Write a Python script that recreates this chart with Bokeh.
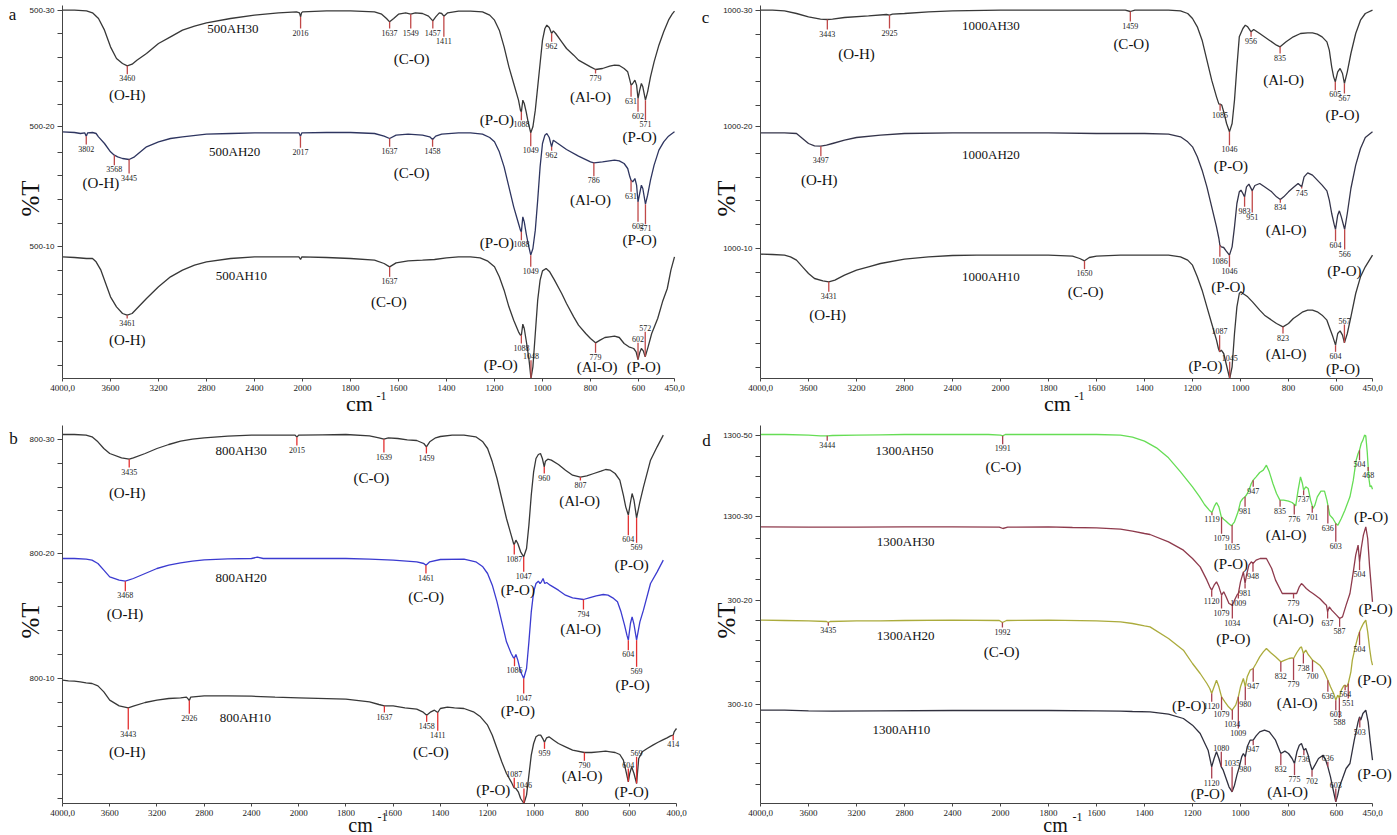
import numpy as np
from bokeh.plotting import figure
from bokeh.layouts import column, row
from bokeh.models import (Range1d, FixedTicker, Label, LabelSet, ColumnDataSource,
                          CustomJSTickFormatter)
from bokeh.core.properties import value
from bokeh.core.property.dataspec import DataSpec
from bokeh.embed import file_html
from bokeh.resources import INLINE

SERIF = "Liberation Serif"
SANS = "Liberation Sans"

# ---------------- tick labels ----------------
XT_WN_450 = [4000, 3600, 3200, 2800, 2400, 2000, 1800, 1600, 1400, 1200, 1000, 800, 600, 450]
XT_LAB_450 = ["4000,0", "3600", "3200", "2800", "2400", "2000", "1800", "1600", "1400",
              "1200", "1000", "800", "600", "450,0"]
XT_WN_400 = [4000, 3600, 3200, 2800, 2400, 2000, 1800, 1600, 1400, 1200, 1000, 800, 600, 400]
XT_LAB_400 = ["4000,0", "3600", "3200", "2800", "2400", "2000", "1800", "1600", "1400",
              "1200", "1000", "800", "600", "400,0"]

# ---------------- spectra: (wavenumber, depth below panel top, arbitrary units) -------------
A30 = [(4000,30),(3900,30),(3800,32),(3750,38),(3700,55),(3650,90),(3600,140),(3550,175),(3500,190),(3460,197),(3420,192),(3380,180),(3300,160),(3200,130),(3100,110),(3000,90),(2900,78),(2800,68),(2600,55),(2400,45),(2200,38),(2050,35),(2025,38),(2016,50),(2008,38),(2000,35),(1900,32),(1800,32),(1700,35),(1670,42),(1650,55),(1637,65),(1620,55),(1600,42),(1570,38),(1549,42),(1530,38),(1500,40),(1475,48),(1457,62),(1445,50),(1430,38),(1420,40),(1411,48),(1395,38),(1350,33),(1300,33),(1250,35),(1220,45),(1200,60),(1180,90),(1160,140),(1140,200),(1120,250),(1100,300),(1092,330),(1088,335),(1082,300),(1076,310),(1068,335),(1060,365),(1049,398),(1040,380),(1030,330),(1020,260),(1010,190),(1000,120),(990,85),(982,75),(972,82),(962,100),(955,92),(945,100),(920,125),(900,145),(870,165),(850,180),(800,200),(779,208),(750,205),(720,198),(700,195),(680,196),(660,205),(645,215),(636,240),(631,255),(624,250),(615,240),(608,255),(602,295),(595,270),(588,250),(582,260),(571,300),(562,275),(550,230),(535,185),(515,135),(495,95),(475,60),(460,42),(450,33)]
A20 = [(4000,395),(3900,397),(3850,400),(3815,398),(3802,408),(3790,398),(3750,397),(3720,400),(3700,410),(3650,430),(3600,455),(3568,465),(3540,470),(3500,475),(3445,478),(3400,470),(3350,455),(3300,440),(3200,425),(3100,415),(3000,410),(2800,402),(2600,400),(2400,398),(2200,398),(2030,398),(2017,408),(2005,398),(1900,397),(1800,397),(1700,400),(1660,408),(1637,415),(1610,405),(1560,402),(1500,405),(1470,410),(1458,418),(1445,408),(1420,402),(1350,398),(1300,398),(1250,402),(1220,412),(1200,425),(1180,455),(1160,500),(1140,560),(1120,620),(1100,670),(1092,690),(1088,695),(1082,650),(1076,665),(1068,700),(1060,730),(1049,765),(1040,745),(1030,690),(1020,600),(1010,500),(1000,430),(990,405),(982,400),(972,412),(962,440),(955,420),(940,428),(900,448),(850,468),(800,485),(786,488),(750,485),(700,480),(680,482),(660,490),(645,505),(636,530),(631,540),(624,545),(615,535),(608,555),(602,605),(595,580),(588,555),(582,565),(571,612),(562,585),(550,540),(535,495),(515,450),(495,425),(475,408),(460,400),(450,395)]
A10 = [(4000,770),(3900,772),(3800,775),(3750,775),(3720,785),(3680,810),(3640,850),(3600,890),(3550,920),(3500,940),(3461,945),(3420,940),(3380,925),(3300,895),(3200,860),(3100,830),(3000,810),(2900,795),(2800,785),(2600,775),(2400,770),(2200,770),(2030,770),(2016,778),(2005,770),(1900,772),(1800,775),(1700,780),(1660,790),(1637,800),(1610,788),(1560,782),(1500,780),(1450,778),(1400,773),(1350,770),(1300,770),(1260,773),(1230,782),(1200,800),(1180,830),(1160,870),(1140,920),(1120,960),(1100,995),(1092,1005),(1088,1005),(1082,972),(1076,985),(1066,1030),(1056,1080),(1048,1135),(1040,1100),(1030,1000),(1020,900),(1010,840),(1000,812),(985,805),(970,815),(950,840),(920,880),(900,910),(870,950),(850,975),(820,1000),(800,1015),(779,1028),(760,1020),(740,1012),(720,1010),(700,1008),(680,1012),(660,1030),(640,1040),(620,1045),(610,1055),(602,1078),(595,1058),(588,1045),(580,1052),(572,1070),(560,1040),(545,1000),(520,955),(500,905),(480,865),(465,810),(450,770)]

C30 = [(4000,30),(3900,30),(3800,32),(3700,40),(3600,50),(3500,57),(3443,58),(3400,57),(3300,52),(3100,47),(2950,43),(2925,45),(2900,42),(2800,40),(2600,35),(2400,32),(2000,30),(1800,30),(1600,30),(1480,30),(1459,34),(1440,30),(1300,30),(1250,32),(1220,40),(1200,55),(1180,80),(1160,120),(1140,180),(1120,240),(1100,290),(1090,312),(1085,312),(1078,315),(1068,340),(1058,370),(1046,395),(1035,370),(1025,300),(1015,200),(1005,110),(990,85),(980,75),(970,80),(956,95),(945,88),(920,100),(880,120),(850,135),(835,140),(810,125),(780,110),(750,100),(720,98),(700,98),(680,102),(660,110),(640,125),(630,150),(620,200),(612,230),(605,245),(595,215),(585,205),(575,220),(567,250),(555,215),(540,160),(520,100),(500,60),(480,40),(450,30)]
C20 = [(4000,398),(3900,398),(3800,398),(3700,400),(3650,415),(3600,430),(3550,437),(3497,438),(3450,435),(3400,430),(3300,420),(3200,412),(3000,405),(2800,400),(2400,398),(2000,398),(1800,398),(1600,400),(1400,400),(1300,402),(1250,410),(1220,425),(1200,440),(1180,470),(1160,510),(1140,560),(1120,620),(1100,680),(1090,715),(1086,735),(1080,740),(1070,742),(1060,752),(1046,765),(1035,740),(1025,680),(1015,610),(1005,575),(998,570),(990,580),(983,590),(975,560),(965,552),(951,572),(940,556),(920,550),(900,560),(870,575),(850,590),(834,598),(820,590),(800,575),(780,562),(760,550),(745,560),(735,530),(720,518),(700,525),(680,540),(660,555),(640,572),(630,600),(620,640),(610,672),(604,688),(595,645),(588,632),(580,650),(566,688),(555,640),(540,565),(520,495),(500,445),(480,412),(450,395)]
C10 = [(4000,762),(3900,763),(3800,765),(3750,770),(3700,780),(3650,800),(3600,820),(3550,835),(3480,842),(3431,845),(3380,840),(3300,825),(3200,810),(3100,800),(3000,790),(2800,777),(2600,770),(2400,766),(2200,765),(2000,765),(1800,765),(1700,768),(1670,775),(1650,782),(1630,772),(1600,768),(1500,765),(1400,765),(1300,765),(1250,770),(1220,780),(1200,795),(1180,830),(1160,870),(1140,920),(1120,970),(1100,1020),(1092,1045),(1087,1055),(1080,1050),(1070,1060),(1060,1090),(1045,1135),(1035,1100),(1025,1000),(1015,920),(1005,880),(998,875),(990,880),(970,890),(950,905),(920,930),(900,945),(870,960),(850,970),(823,980),(800,970),(780,955),(760,945),(740,935),(720,930),(700,930),(680,935),(660,945),(640,960),(625,990),(615,1010),(604,1035),(595,1000),(585,992),(575,1005),(567,1028),(555,1000),(540,950),(520,880),(500,830),(480,800),(450,765)]

B30 = [(4000,58),(3900,58),(3800,60),(3750,65),(3700,80),(3650,100),(3600,115),(3500,128),(3435,132),(3400,128),(3300,115),(3200,100),(3100,88),(3000,78),(2900,72),(2800,68),(2600,63),(2400,60),(2200,60),(2030,60),(2015,66),(2000,60),(1900,59),(1800,58),(1700,62),(1660,68),(1639,72),(1620,68),(1580,70),(1540,74),(1500,76),(1470,85),(1459,95),(1445,80),(1420,68),(1400,64),(1350,60),(1300,60),(1250,65),(1220,80),(1200,100),(1180,140),(1160,190),(1140,250),(1120,310),(1100,360),(1090,385),(1087,388),(1080,375),(1072,385),(1060,410),(1047,425),(1035,400),(1025,330),(1015,240),(1005,170),(995,130),(985,118),(976,115),(968,130),(960,155),(955,138),(945,132),(930,135),(900,148),(870,165),(840,180),(807,186),(780,182),(750,175),(720,168),(700,163),(680,165),(660,175),(640,195),(625,240),(615,275),(604,300),(595,262),(588,235),(580,255),(569,308),(555,260),(540,216),(510,135),(482,95),(456,60)]
B20 = [(4000,430),(3900,430),(3800,432),(3750,435),(3700,445),(3650,465),(3600,485),(3520,495),(3468,498),(3400,490),(3300,475),(3200,460),(3100,450),(3000,443),(2900,438),(2800,434),(2600,431),(2400,430),(2350,426),(2300,430),(2000,430),(1800,430),(1700,432),(1600,435),(1500,440),(1470,445),(1461,450),(1445,440),(1400,433),(1300,432),(1250,440),(1220,455),(1200,475),(1180,510),(1160,560),(1140,620),(1120,680),(1100,715),(1090,728),(1086,728),(1080,718),(1072,735),(1060,770),(1047,790),(1035,760),(1025,680),(1015,590),(1005,530),(995,505),(985,498),(978,505),(972,500),(965,490),(958,505),(950,502),(935,510),(900,525),(870,540),(840,548),(794,553),(770,548),(740,542),(710,538),(690,540),(670,548),(650,560),(635,590),(620,630),(610,660),(604,675),(595,625),(588,605),(580,628),(569,675),(555,620),(540,585),(510,505),(482,470),(456,435)]
B10 = [(4000,795),(3950,797),(3900,798),(3850,800),(3800,803),(3750,805),(3700,812),(3650,830),(3600,855),(3520,872),(3443,878),(3400,873),(3300,862),(3200,855),(3100,850),(3000,848),(2950,846),(2935,852),(2926,856),(2915,846),(2800,842),(2600,842),(2400,843),(2200,846),(2000,848),(1800,852),(1700,860),(1660,868),(1637,872),(1600,872),(1550,878),(1500,882),(1475,890),(1458,900),(1440,890),(1425,885),(1411,892),(1400,880),(1370,876),(1340,878),(1300,880),(1260,890),(1230,905),(1200,930),(1180,960),(1160,1000),(1140,1040),(1120,1075),(1100,1100),(1090,1115),(1087,1118),(1080,1120),(1070,1130),(1060,1150),(1046,1165),(1035,1140),(1025,1080),(1015,1020),(1005,985),(995,965),(985,960),(975,960),(965,972),(959,981),(950,968),(940,965),(920,975),(900,985),(870,995),(840,1005),(790,1012),(760,1012),(730,1010),(700,1008),(680,1010),(660,1012),(640,1018),(625,1035),(615,1065),(604,1100),(598,1075),(590,1055),(580,1075),(569,1105),(560,1030),(545,1010),(524,1000),(500,990),(480,982),(460,975),(440,968),(425,962),(414,960),(410,950),(405,945),(400,940)]

D50 = [(4000,58),(3800,58),(3600,60),(3500,62),(3444,62),(3400,61),(3200,60),(3000,59),(2800,58),(2400,58),(2100,58),(2000,60),(1991,62),(1980,58),(1900,58),(1800,58),(1600,58),(1500,60),(1450,66),(1400,78),(1350,98),(1300,128),(1250,170),(1200,215),(1170,245),(1150,268),(1130,285),(1119,292),(1108,272),(1100,262),(1090,275),(1080,305),(1070,312),(1060,318),(1050,325),(1038,332),(1025,320),(1010,290),(1000,260),(990,250),(981,245),(974,238),(965,225),(955,205),(947,195),(935,185),(920,172),(905,165),(892,150),(880,170),(865,205),(850,235),(836,255),(820,255),(800,258),(785,262),(770,272),(760,225),(750,185),(742,205),(737,225),(728,215),(718,220),(708,255),(698,280),(690,270),(680,245),(665,228),(650,228),(640,255),(628,300),(615,310),(603,325),(594,330),(580,310),(565,285),(544,245),(530,195),(518,135),(510,115),(504,105),(497,85),(490,75),(483,60),(478,62),(472,110),(465,190),(460,215),(455,212),(450,222)]
D30 = [(4000,335),(3600,336),(3200,336),(2800,335),(2400,335),(2010,336),(1990,340),(1970,336),(1800,335),(1700,337),(1600,338),(1500,342),(1450,348),(1400,355),(1377,358),(1300,380),(1238,405),(1200,430),(1168,455),(1140,495),(1128,515),(1120,525),(1110,510),(1100,500),(1090,515),(1079,540),(1070,530),(1060,545),(1048,565),(1034,570),(1025,555),(1015,540),(1009,535),(1000,500),(988,470),(981,505),(975,480),(965,450),(955,440),(948,445),(935,435),(918,430),(892,430),(870,460),(854,495),(826,535),(800,535),(779,535),(766,535),(755,515),(746,505),(736,512),(726,520),(712,528),(698,535),(670,550),(650,565),(642,570),(637,590),(630,575),(620,585),(600,600),(587,610),(575,605),(560,570),(544,535),(530,470),(520,420),(510,390),(504,440),(497,400),(488,360),(478,335),(470,370),(462,455),(450,560)]
D20 = [(4000,615),(3800,616),(3600,617),(3450,619),(3435,622),(3420,619),(3200,617),(3000,617),(2800,616),(2400,615),(2010,616),(1992,622),(1975,616),(1800,615),(1600,617),(1500,620),(1450,625),(1400,632),(1377,635),(1300,670),(1238,705),(1200,745),(1168,775),(1140,805),(1128,820),(1120,835),(1110,815),(1100,795),(1090,815),(1079,845),(1065,860),(1050,875),(1035,885),(1020,870),(1009,845),(1000,815),(988,790),(980,815),(972,785),(960,765),(947,760),(935,745),(920,725),(905,710),(892,700),(875,712),(854,725),(832,740),(815,735),(798,730),(785,728),(779,730),(765,712),(752,698),(746,695),(738,715),(728,705),(718,718),(710,725),(700,735),(685,742),(670,750),(655,765),(645,780),(636,795),(625,815),(612,835),(603,855),(595,840),(588,848),(580,825),(570,812),(564,810),(557,815),(551,805),(540,770),(534,735),(520,690),(511,665),(504,650),(495,635),(488,625),(478,615),(470,650),(462,700),(455,735),(450,750)]
D10 = [(4000,885),(3800,885),(3600,887),(3400,888),(3000,887),(2400,886),(2000,886),(1800,886),(1600,887),(1500,888),(1450,889),(1377,890),(1300,897),(1238,910),(1200,930),(1168,955),(1135,1005),(1120,1055),(1110,1030),(1100,1010),(1090,1030),(1080,1055),(1072,1065),(1060,1090),(1048,1115),(1035,1130),(1025,1110),(1015,1080),(1005,1055),(995,1025),(988,1015),(980,1025),(972,995),(960,975),(947,975),(935,962),(920,950),(900,945),(880,950),(854,975),(832,1015),(815,1008),(800,1015),(785,1030),(775,1045),(765,1010),(755,990),(746,985),(736,1005),(728,1000),(718,1020),(710,1045),(702,1065),(690,1050),(675,1030),(656,1020),(645,1035),(636,1055),(625,1085),(615,1120),(603,1160),(595,1140),(588,1115),(575,1090),(560,1060),(544,1045),(526,975),(510,920),(504,905),(499,915),(490,895),(478,885),(468,920),(460,975),(450,1035)]

# ---------------- marked peaks: (wavenumber, marker length; negative = label above) -------------
PK_A30 = [(3460,25),(2016,35),(1637,20),(1549,43),(1457,23),(1411,62),(1088,25),(1049,40),(962,25),(779,12),(631,35),(602,40),(571,60)]
PK_A20 = [(3802,25),(3568,30),(3445,42),(2017,35),(1637,25),(1458,22),(1088,25),(1049,35),(962,12),(786,40),(631,35),(602,60),(571,60)]
PK_A10 = [(3461,10),(1637,30),(1088,25),(1048,-55),(779,30),(602,-50),(572,-75)]
PK_C30 = [(3443,30),(2925,40),(1459,30),(1085,20),(1046,40),(956,15),(835,20),(605,25),(567,30)]
PK_C20 = [(3497,30),(1086,35),(1046,35),(983,30),(951,65),(834,10),(745,5),(604,35),(566,60)]
PK_C10 = [(3431,30),(1650,25),(1087,-50),(1045,-50),(823,20),(604,20),(567,-55)]
PK_B30 = [(3435,25),(2015,25),(1639,40),(1459,20),(1087,30),(1047,45),(960,20),(807,10),(604,60),(569,75)]
PK_B20 = [(3468,30),(1461,25),(1086,25),(1047,45),(794,30),(604,30),(569,80)]
PK_B10 = [(3443,65),(2926,40),(1637,20),(1458,20),(1411,55),(1087,-30),(1046,-45),(959,20),(790,25),(604,-40),(569,-80),(414,15)]
PK_D50 = [(3444,15),(1991,25),(1119,8),(1079,50),(1035,55),(981,30),(947,20),(835,20),(776,30),(737,15),(701,20),(636,55),(603,55),(504,30),(468,12)]
PK_D30 = [(1120,20),(1079,40),(1034,40),(1009,15),(981,15),(948,25),(779,15),(637,20),(587,25),(504,25)]
PK_D20 = [(3435,10),(1992,15),(1120,25),(1079,40),(1034,30),(1009,95),(980,40),(947,40),(832,30),(779,65),(738,30),(700,35),(636,35),(603,30),(588,60),(564,15),(551,45),(504,40)]
PK_D10 = [(1120,35),(1080,-45),(1035,-75),(980,25),(947,15),(832,35),(775,35),(736,15),(702,20),(636,-15),(603,-40),(503,30)]

# ---------------- text annotations: (text, wavenumber, depth) ----------------
NAMES_A = [("500AH30",2580,85),("500AH20",2565,455),("500AH10",2510,825)]
GROUPS_A = [("(O-H)",3460,285),("(C-O)",1545,175),("(P-O)",1190,360),("(Al-O)",800,290),("(P-O)",595,410),
            ("(O-H)",3680,548),("(C-O)",1545,518),("(P-O)",1190,728),("(Al-O)",800,598),("(P-O)",595,718),
            ("(O-H)",3460,1020),("(C-O)",1640,905),("(P-O)",1174,1095),("(Al-O)",772,1100),("(P-O)",578,1100)]
NAMES_C = [("1000AH30",2080,75),("1000AH20",2080,462),("1000AH10",2080,830)]
GROUPS_C = [("(O-H)",3200,160),("(C-O)",1455,130),("(P-O)",1040,498),("(Al-O)",820,238),("(P-O)",575,345),
            ("(O-H)",3510,540),("(P-O)",1051,860),("(Al-O)",810,688),("(P-O)",567,812),
            ("(O-H)",3440,945),("(C-O)",1645,875),("(P-O)",1146,1098),("(Al-O)",810,1062),("(P-O)",573,1105)]
NAMES_B = [("800AH30",2488,105),("800AH20",2488,487),("800AH10",2452,908)]
GROUPS_B = [("(O-H)",3452,232),("(C-O)",1692,188),("(P-O)",1072,525),("(Al-O)",810,258),("(P-O)",590,450),
            ("(O-H)",3471,595),("(C-O)",1460,545),("(P-O)",1072,888),("(Al-O)",806,640),("(P-O)",586,808),
            ("(O-H)",3452,1010),("(C-O)",1440,1010),("(P-O)",1176,1125),("(Al-O)",800,1083),("(P-O)",590,1130)]
NAMES_D = [("1300AH50",2800,105),("1300AH30",2790,378),("1300AH20",2790,662),("1300AH10",2826,942)]
GROUPS_D = [("(C-O)",1988,155),("(P-O)",1040,447),("(Al-O)",810,360),("(P-O)",456,305),
            ("(P-O)",1030,672),("(Al-O)",780,610),("(P-O)",437,582),
            ("(C-O)",1995,710),("(P-O)",1214,873),("(Al-O)",764,862),("(P-O)",441,795),
            ("(P-O)",1136,1137),("(Al-O)",804,1130),("(P-O)",441,1075)]

# y-axis sample labels (text, depth)
YL_A = [("500-30",30),("500-20",380),("500-10",740)]
YL_C = [("1000-30",30),("1000-20",378),("1000-10",745)]
YL_B = [("800-30",72),("800-20",415),("800-10",790)]
YL_D = [("1300-50",62),("1300-30",305),("300-20",555),("300-10",868)]

# Label fonts: pass as value() only if this Bokeh treats them as data specs
_LBL_FONT_SPEC = isinstance(Label.lookup("text_font").property, DataSpec)


def _fv(v):
    return value(v) if _LBL_FONT_SPEC else v


def xf(wn):
    wn = np.asarray(wn, dtype=float)
    return np.where(wn >= 2000, (4000.0 - wn) / 400.0, 5.0 + (2000.0 - wn) / 200.0)


def lookup_fmt(vals, labs):
    return CustomJSTickFormatter(
        args=dict(tv=[float(v) for v in vals], tl=list(labs)),
        code="""
for (let i = 0; i < tv.length; i++) { if (Math.abs(tv[i] - tick) < 1e-6) { return tl[i]; } }
return "";
""")


def panel(cfg):
    base = cfg["base"]
    w, h = cfg["w"], cfg["h"]
    xend_u = float(xf(cfg["xend"]))
    pxu = cfg["fw"] / xend_u            # pixels per x unit
    left, bot = 62, cfg["bottom"]       # axes origin offset inside the canvas
    p = figure(width=w, height=h, output_backend="svg", toolbar_location=None,
               x_range=Range1d(-left / pxu, (w - left) / pxu),
               y_range=Range1d(-bot * 3.0, (h - bot) * 3.0),
               min_border=0, min_border_left=0, min_border_right=0,
               min_border_top=0, min_border_bottom=0)
    p.outline_line_color = None
    p.xgrid.visible = False
    p.ygrid.visible = False
    p.background_fill_color = "white"
    p.border_fill_color = "white"

    # x axis
    xt = [float(v) for v in xf(cfg["xt_wn"])]
    p.xaxis.fixed_location = 0
    p.xaxis.bounds = (0, xend_u)
    p.xaxis.ticker = FixedTicker(ticks=xt)
    p.xaxis.formatter = lookup_fmt(xt, cfg["xt_lab"])
    p.xaxis.major_tick_out = 3
    p.xaxis.major_tick_in = 0
    p.xaxis.minor_tick_line_color = None
    p.xaxis.major_label_text_font = SERIF
    p.xaxis.major_label_text_font_size = "9px"
    p.xaxis.major_label_standoff = 3
    p.xaxis.major_label_text_color = "#222222"
    p.xaxis.axis_line_color = "#444444"
    p.xaxis.major_tick_line_color = "#444444"

    # y axis
    ylab_t = [base - d for _, d in cfg["ylab"]]
    step = cfg["ystep"]
    minors = []
    v = ylab_t[0]
    while v > 0:
        if all(abs(v - m) > 20 for m in ylab_t):
            minors.append(v)
        v -= step
    p.yaxis.fixed_location = 0
    p.yaxis.bounds = (0, cfg["yend"])
    p.yaxis.ticker = FixedTicker(ticks=ylab_t, minor_ticks=minors)
    p.yaxis.formatter = lookup_fmt(ylab_t, [t for t, _ in cfg["ylab"]])
    p.yaxis.major_tick_out = 5
    p.yaxis.major_tick_in = 0
    p.yaxis.minor_tick_out = 5
    p.yaxis.minor_tick_in = 0
    p.yaxis.major_label_text_font = SANS
    p.yaxis.major_label_text_font_size = "8px"
    p.yaxis.major_label_standoff = 3
    p.yaxis.major_label_text_color = "#222222"
    p.yaxis.axis_line_color = "#444444"
    p.yaxis.major_tick_line_color = "#444444"
    p.yaxis.minor_tick_line_color = "#444444"

    # spectra
    for data, color, peaks in cfg["curves"]:
        wn = np.array([a for a, _ in data], dtype=float)
        t = base - np.array([b for _, b in data], dtype=float)
        xs = xf(wn)
        p.line(xs, t, line_color=color, line_width=1.3)
        x0, y0, y1 = [], [], []
        lx, ly, lt, bx, by, bt = [], [], [], [], [], []
        for pw, L in peaks:
            px = float(xf(pw))
            yc = float(np.interp(px, xs, t))
            x0.append(px)
            y0.append(yc)
            y1.append(yc - L)
            if L >= 0:
                lx.append(px); ly.append(yc - L - 3); lt.append(str(pw))
            else:
                bx.append(px); by.append(yc - L + 3); bt.append(str(pw))
        p.segment(x0=x0, y0=y0, x1=x0, y1=y1, line_color=cfg["red"], line_width=1.3)
        for xx, yy, tt, bl in ((lx, ly, lt, "top"), (bx, by, bt, "bottom")):
            if xx:
                p.add_layout(LabelSet(x="x", y="y", text="t",
                                      source=ColumnDataSource(dict(x=xx, y=yy, t=tt)),
                                      text_font=value(SERIF), text_font_size=value("8px"),
                                      text_color="#222222", text_align="center",
                                      text_baseline=bl))

    # curve names and band assignments
    for items, size in ((cfg["names"], "13px"), (cfg["groups"], "15px")):
        src = ColumnDataSource(dict(x=[float(xf(a)) for _, a, _ in items],
                                    y=[base - d for _, _, d in items],
                                    t=[s for s, _, _ in items]))
        p.add_layout(LabelSet(x="x", y="y", text="t", source=src,
                              text_font=value(SERIF), text_font_size=value(size),
                              text_color="#111111", text_align="center", text_baseline="middle"))

    # texts around the axes (pixel offsets from the axes' origin)
    def lab(dx, dy, text, size, **kw):
        p.add_layout(Label(x=dx / pxu, y=dy * 3.0, text=text, text_font=_fv(SERIF),
                           text_font_size=_fv(size), text_color="#111111", **kw))

    lx_, ly_ = cfg["letter_xy"]
    lab(lx_, ly_, cfg["letter"], "17px", text_align="center", text_baseline="middle")
    tx, ty = cfg["pct_xy"]
    lab(tx, ty, "%T", "25px", angle=np.pi / 2, text_align="center", text_baseline="middle")
    cx, cy, cs = cfg["cm_xy"]
    lab(cx, cy, "cm", cs, text_align="center", text_baseline="middle")
    lab(cx + 17, cy + 8, "-1", "12px", text_align="left", text_baseline="middle")
    return p


DARK = "#383838"
RED_A = "#c04848"
RED_B = "#e33030"
RED_D = "#a8404f"

pa = panel(dict(w=698, h=415, fw=612, bottom=37, base=1135, yend=1119, xend=450,
                xt_wn=XT_WN_450, xt_lab=XT_LAB_450, ylab=YL_A, ystep=71, red=RED_A,
                curves=[(A30, DARK, PK_A30), (A20, "#2e3560", PK_A20), (A10, DARK, PK_A10)],
                names=NAMES_A, groups=GROUPS_A, letter="a", letter_xy=(-50, 364),
                pct_xy=(-32, 180), cm_xy=(297, -25, "22px")))
pc = panel(dict(w=699, h=415, fw=612, bottom=37, base=1135, yend=1119, xend=450,
                xt_wn=XT_WN_450, xt_lab=XT_LAB_450, ylab=YL_C, ystep=71.5, red=RED_A,
                curves=[(C30, DARK, PK_C30), (C20, "#34344a", PK_C20), (C10, DARK, PK_C10)],
                names=NAMES_C, groups=GROUPS_C, letter="c", letter_xy=(-55, 361),
                pct_xy=(-34, 180), cm_xy=(297, -25, "22px")))
pb = panel(dict(w=698, h=420, fw=614, bottom=32, base=1165, yend=1134, xend=400,
                xt_wn=XT_WN_400, xt_lab=XT_LAB_400, ylab=YL_B, ystep=71.8, red=RED_B,
                curves=[(B30, DARK, PK_B30), (B20, "#3b3bd0", PK_B20), (B10, DARK, PK_B10)],
                names=NAMES_B, groups=GROUPS_B, letter="b", letter_xy=(-49, 365),
                pct_xy=(-32, 183), cm_xy=(298, -21, "20px")))
pd_ = panel(dict(w=699, h=420, fw=612, bottom=32, base=1165, yend=1134, xend=450,
                 xt_wn=XT_WN_450, xt_lab=XT_LAB_450, ylab=YL_D, ystep=61.5, red=RED_D,
                 curves=[(D50, "#66dd55", PK_D50), (D30, "#8e3a4c", PK_D30),
                         (D20, "#abab3c", PK_D20), (D10, "#30303e", PK_D10)],
                 names=NAMES_D, groups=GROUPS_D, letter="d", letter_xy=(-54, 363),
                 pct_xy=(-34, 183), cm_xy=(295, -21, "20px")))

layout = column(row(pa, pc, spacing=0), row(pb, pd_, spacing=0), spacing=0)
open("out.html", "w").write(file_html(layout, INLINE))
